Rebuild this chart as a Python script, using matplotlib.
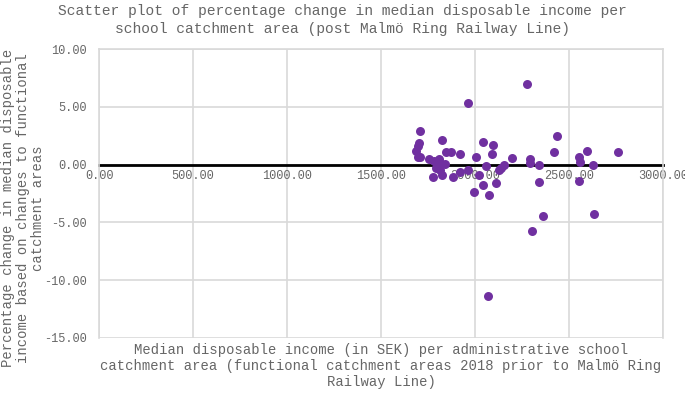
"""Scatter: percentage change in median disposable income per school catchment area."""

import matplotlib
matplotlib.use("Agg")
import matplotlib.pyplot as plt
import matplotlib.ticker as mticker

# Median disposable income (SEK) per administrative school catchment area
income = [
    1961, 1705, 1702, 1695, 1684, 1695, 1709, 1826, 1844, 1872,
    1922, 1757, 1780, 1807, 1815, 1838, 1794, 1812, 1776, 1826,
    1883, 1922, 1964, 2003, 2041, 2096, 2088, 2057, 2021, 2126,
    2138, 2152, 2198, 2294, 2291, 2342, 2418, 2436, 2042, 1996,
    2074, 2110, 2342, 2553, 2557, 2551, 2596, 2627, 2762, 2362,
    2631, 2301, 2067, 2278,
]
# Percentage change based on changes to functional catchment areas
pct_change = [
    5.29, 2.93, 1.84, 1.61, 1.18, 0.64, 0.69, 2.16, 1.12, 1.12,
    0.92, 0.46, 0.35, 0.46, 0.18, 0.06, -0.31, -0.46, -1.03, -0.89,
    -1.03, -0.60, -0.46, 0.64, 1.96, 1.70, 0.92, -0.11, -0.92, -0.51,
    -0.31, -0.03, 0.55, 0.46, 0.18, -0.03, 1.12, 2.50, -1.78, -2.41,
    -2.64, -1.61, -1.49, 0.64, 0.26, -1.38, 1.21, -0.03, 1.09, -4.42,
    -4.25, -5.77, -11.38, 6.95,
]

x_ticks = [0, 500, 1000, 1500, 2000, 2500, 3000]
y_ticks = [-15, -10, -5, 0, 5, 10]

POINT_COLOR = "#7030A0"
GRID_COLOR = "#d9d9d9"
TEXT_COLOR = "#666666"
FONT = ["Liberation Mono", "DejaVu Sans Mono"]

plt.rcParams["font.family"] = FONT

fig = plt.figure(figsize=(6.85, 3.93), dpi=100)
W, H = 685, 393
ax = fig.add_axes([99 / W, 1 - 338 / H, (663 - 99) / W, (338 - 49) / H])

ax.scatter(income, pct_change, s=42, color=POINT_COLOR, linewidths=0, zorder=3)

ax.set_xlim(0, 3000)
ax.set_ylim(-15, 10)
ax.set_xticks(x_ticks)
ax.set_yticks(y_ticks)
ax.xaxis.set_major_formatter(mticker.FormatStrFormatter("%.2f"))
ax.yaxis.set_major_formatter(mticker.FormatStrFormatter("%.2f"))
ax.grid(True, color=GRID_COLOR, linewidth=1.2, zorder=0)
ax.set_axisbelow(True)

# the x axis sits on y = 0
ax.spines["bottom"].set_position(("data", 0))
ax.spines["bottom"].set_color("black")
ax.spines["bottom"].set_linewidth(2)
ax.spines["bottom"].set_zorder(2)
for side in ("left", "right", "top"):
    ax.spines[side].set_color(GRID_COLOR)
    ax.spines[side].set_linewidth(1.2)

ax.tick_params(axis="x", length=0, pad=4, labelsize=8.6, labelcolor=TEXT_COLOR)
ax.tick_params(axis="y", length=0, pad=9, labelsize=8.6, labelcolor=TEXT_COLOR)

fig.text(0.5, 1 - 20 / H,
         "Scatter plot of percentage change in median disposable income per\n"
         "school catchment area (post Malmö Ring Railway Line)",
         ha="center", va="center", fontsize=10.5, color=TEXT_COLOR,
         linespacing=1.3)

fig.text(381 / W, 1 - 366 / H,
         "Median disposable income (in SEK) per administrative school\n"
         "catchment area (functional catchment areas 2018 prior to Malmö Ring\n"
         "Railway Line)",
         ha="center", va="center", fontsize=10, color=TEXT_COLOR,
         linespacing=1.2, multialignment="center")

fig.text(23 / W, 1 - 208 / H,
         "Percentage change in median disposable\n"
         "income based on changes to functional\n"
         "catchment areas",
         ha="center", va="center", rotation=90, fontsize=10, color=TEXT_COLOR,
         linespacing=1.1, multialignment="center")

fig.savefig("out.png", dpi=100)
plt.close(fig)
